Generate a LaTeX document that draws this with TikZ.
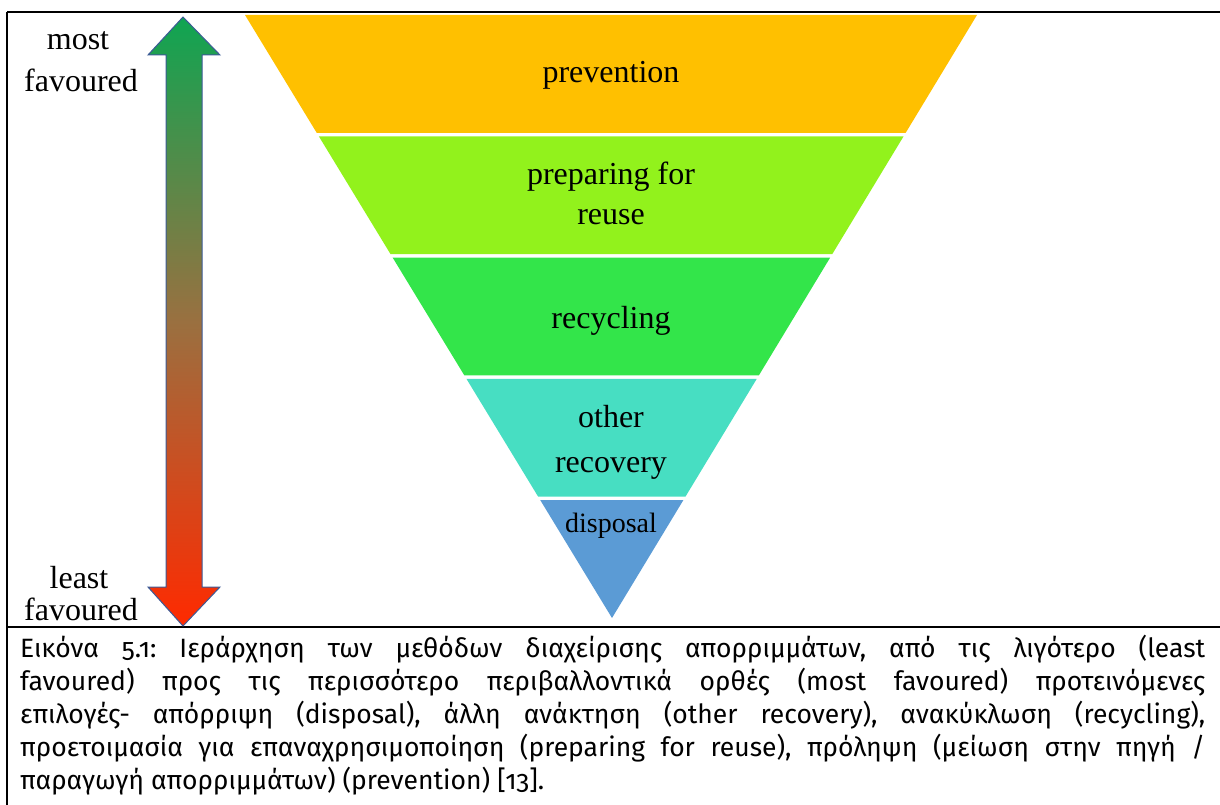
\documentclass[tikz,border=0pt]{standalone}
\usepackage{fontspec}
\usetikzlibrary{calc}
\newfontfamily\serf{Liberation Serif}
\newfontfamily\capfont[Numbers=OldStyle]{Fira Sans}
\definecolor{cprev}{HTML}{FFC000}
\definecolor{cprep}{HTML}{92F21C}
\definecolor{crecy}{HTML}{33E54A}
\definecolor{cother}{HTML}{47DEC2}
\definecolor{cdisp}{HTML}{5B9BD5}
\definecolor{arrgreen}{HTML}{0FA552}
\definecolor{arrmid}{HTML}{9A7040}
\definecolor{arrred}{HTML}{FF2A00}
\definecolor{arredge}{HTML}{3C5A96}
\tikzset{
  rule/.style={line width=2.4pt, black},
  lab/.style={font=\serf\fontsize{32}{40}\selectfont, anchor=base, inner sep=0pt},
  sidelab/.style={font=\serf\fontsize{32}{40}\selectfont, anchor=base, inner sep=0pt},
  capline/.style={font=\capfont\fontsize{26.5}{32}\selectfont\frenchspacing, anchor=base west, inner sep=0pt},
}
\newcommand{\capw}[1]{\makebox[1185pt][s]{#1}}
\begin{document}
\begin{tikzpicture}[x=1pt,y=-1pt]
\useasboundingbox (0,0) rectangle (1220,805);
% frame
\draw[rule] (7,12) -- (1220,12);
\draw[rule] (7,12) -- (7,805);
\draw[rule] (7,627) -- (1220,627);
% triangle corners
\coordinate (A) at (245,15);
\coordinate (B) at (977,15);
\coordinate (C) at (612,618);
% bands
\fill[cprev] (A) -- (B) -- ($(B)!0.19536!(C)$) -- ($(A)!0.19536!(C)$) -- cycle;
\fill[cprep] ($(A)!0.20116!(C)$) -- ($(B)!0.20116!(C)$) -- ($(B)!0.39652!(C)$) -- ($(A)!0.39652!(C)$) -- cycle;
\fill[crecy] ($(A)!0.40232!(C)$) -- ($(B)!0.40232!(C)$) -- ($(B)!0.59768!(C)$) -- ($(A)!0.59768!(C)$) -- cycle;
\fill[cother] ($(A)!0.60348!(C)$) -- ($(B)!0.60348!(C)$) -- ($(B)!0.79884!(C)$) -- ($(A)!0.79884!(C)$) -- cycle;
\fill[cdisp] ($(A)!0.80464!(C)$) -- ($(B)!0.80464!(C)$) -- (C) -- cycle;
% band labels
\node[lab] (prev) at (611,83) {prevention};
\node[lab] (prep1) at (611,185) {preparing for};
\node[lab] (prep2) at (611,225) {reuse};
\node[lab] (recy) at (611,328) {recycling};
\node[lab] (oth1) at (611,427) {other};
\node[lab] (oth2) at (611,472) {recovery};
\node[lab, font=\serf\fontsize{28}{34}\selectfont] (disp) at (611,532) {disposal};
% double arrow
\shade[top color=arrgreen, bottom color=arrred, middle color=arrmid, draw=arredge, line width=1pt]
  (183,17) -- (220,55) -- (202,55) -- (202,587) -- (220,587) -- (183,626)
  -- (148,587) -- (166,587) -- (166,55) -- (148,55) -- cycle;
% side labels
\node[sidelab] (most) at (78,50) {most};
\node[sidelab] (fav1) at (81,92) {favoured};
\node[sidelab] (least) at (79,588) {least};
\node[sidelab] (fav2) at (81,620) {favoured};
% caption
\node[capline] (c1) at (20,657) {\capw{Εικόνα 5.1: Ιεράρχηση των μεθόδων διαχείρισης απορριμμάτων, από τις λιγότερο (least}};
\node[capline] (c2) at (20,690) {\capw{favoured) προς τις περισσότερο περιβαλλοντικά ορθές (most favoured) προτεινόμενες}};
\node[capline] (c3) at (20,723) {\capw{επιλογές- απόρριψη (disposal), άλλη ανάκτηση (other recovery), ανακύκλωση (recycling),}};
\node[capline] (c4) at (20,756) {\capw{προετοιμασία για επαναχρησιμοποίηση (preparing for reuse), πρόληψη (μείωση στην πηγή /}};
\node[capline] (c5) at (20,789) {παραγωγή απορριμμάτων) (prevention) [13].};
\end{tikzpicture}
\end{document}
